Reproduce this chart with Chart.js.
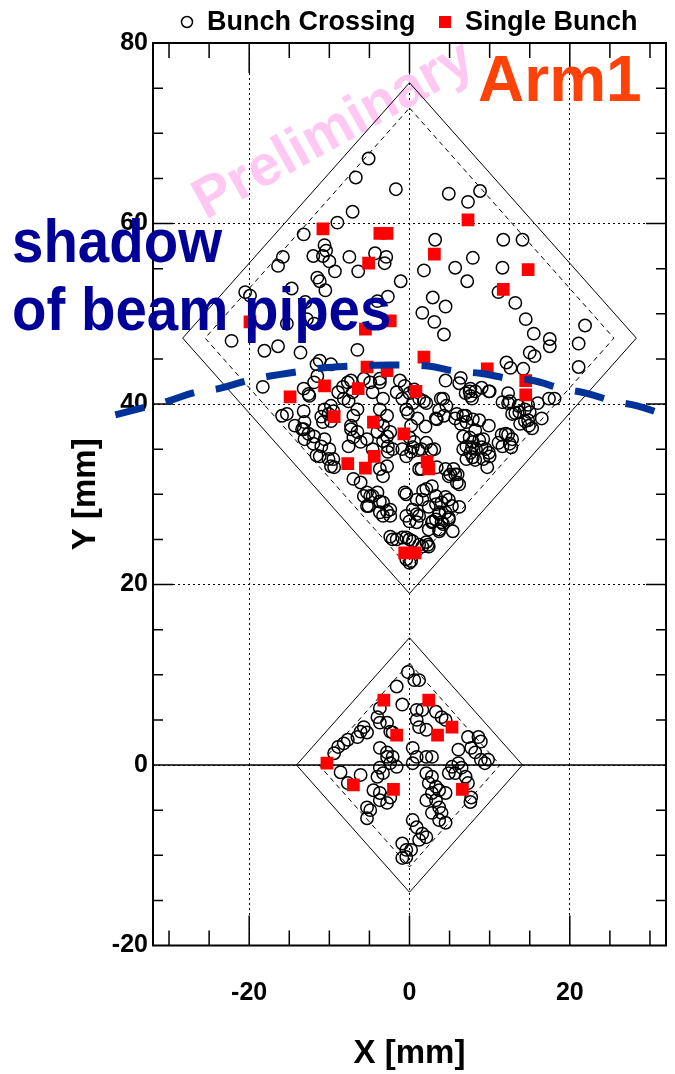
<!DOCTYPE html>
<html>
<head>
<meta charset="utf-8">
<script src="https://cdn.jsdelivr.net/npm/chart.js@4.4.1/dist/chart.umd.min.js"></script>
<style>
  html, body { margin: 0; padding: 0; background: #fff; overflow: hidden; }
  #wrap { position: relative; width: 675px; height: 1074px; }
  canvas { display: block; }
</style>
</head>
<body>
<div id="wrap"><canvas id="hitmap"></canvas></div>
<script>
// hit positions [x, y] in mm
const crossingLarge = [
  [-5.1,67.2],[-6.7,65.1],[-1.7,63.8],[-7.1,61.3],[-9.0,60.1],[-13.2,58.8],[-10.6,57.6],[-10.4,57.0],[-12.0,56.4],[-10.8,56.4],
  [-10.0,55.8],[-7.5,56.3],[-15.8,56.3],[-16.4,55.3],[-9.3,54.7],[-6.4,54.7],[-4.3,56.7],[-2.9,56.3],[-3.1,55.6],[-1.1,53.6],
  [-11.5,54.0],[-11.2,53.6],[-10.5,52.6],[-14.7,52.8],[-20.5,52.4],[-19.9,52.0],[-13.0,51.3],[-4.0,51.4],[-2.7,51.9],[-15.3,48.9],
  [-12.8,49.4],[-11.9,48.9],[-22.2,47.0],[-18.1,45.9],[-16.4,46.4],[-13.6,45.7],[-6.5,46.0],[-11.2,44.8],[-11.5,43.1],[-11.9,42.4],
  [-7.3,42.6],[-5.7,42.8],[-3.7,42.4],[-18.3,41.9],[-13.2,41.7],[-12.6,41.1],[-8.9,41.3],[-1.6,41.3],
  [4.9,63.3],[7.3,62.4],[8.8,63.6],[3.2,58.2],[11.7,58.2],[14.1,58.2],[7.9,56.2],[5.7,55.1],[1.8,54.8],[11.6,55.1],
  [7.2,53.6],[11.1,52.4],[13.2,51.2],[2.9,51.8],[4.5,50.8],[1.6,50.1],[3.1,49.1],[4.3,47.7],[14.5,49.4],[15.5,47.8],
  [17.5,47.2],[17.5,46.4],[15.0,45.7],[15.6,45.3],[21.9,48.7],[21.1,46.7],[21.1,44.1],[12.1,44.6],[12.6,44.0],[14.2,43.9],
  [4.5,42.6],[6.4,42.9],[6.2,42.3],[-1.2,42.6],[7.5,41.4],[9.0,41.8],[12.3,41.2],
  [-15.9,38.7],[-15.3,38.9],[-13.2,39.2],[-12.5,40.9],[-9.8,39.8],[-9.5,39.2],[-11.0,38.6],[-7.6,40.3],[-6.5,39.4],[-7.0,38.7],
  [-13.2,37.2],[-12.6,36.7],[-13.1,36.1],[-11.9,36.4],[-10.6,36.1],[-11.0,35.3],[-10.0,35.0],[-11.6,34.3],[-9.5,33.9],[-9.8,33.1],
  [-9.4,33.0],[-7.3,37.6],[-6.5,36.9],[-7.0,36.3],[-3.3,37.6],[-2.4,36.9],[-2.7,35.3],[-2.1,35.0],[-5.3,36.1],[-4.6,35.0],
  [-4.0,36.9],[-7.0,31.7],[-6.1,31.3],[-5.3,30.2],[-4.9,29.8],[-5.7,29.8],[-3.3,32.0],[-2.8,33.1],[-3.7,32.8],[-0.9,35.0],
  [-0.4,34.2],[-0.6,30.2],[-5.3,28.7],[-3.3,29.1],[-2.4,28.3],[-3.7,28.0],[-3.3,27.6],[-2.4,25.3],[-2.1,25.0],[-0.4,27.6],
  [-0.9,40.6],[-0.4,39.4],
  [0.0,41.2],[0.4,40.1],[1.2,40.6],[2.1,40.1],[4.2,40.6],[3.7,39.3],[3.3,38.4],[7.0,41.2],[7.8,40.6],[5.7,38.4],
  [7.0,38.7],[8.7,38.2],[9.9,37.6],[8.2,37.1],[9.9,41.4],[13.6,39.8],[14.8,39.9],[16.0,40.1],[17.4,40.6],[18.1,40.6],
  [13.2,39.0],[14.8,38.2],[15.3,37.3],[16.5,38.4],[12.3,40.1],[7.5,36.3],[8.7,36.0],[7.8,35.2],[9.0,35.2],[7.6,34.6],
  [8.2,33.8],[9.9,34.6],[11.1,35.7],[12.7,35.2],[12.3,36.6],[11.5,36.6],[9.7,33.0],[0.0,36.3],[0.4,35.2],[1.1,34.9],
  [2.1,35.7],[2.7,34.9],[4.5,32.8],[6.0,32.2],[6.2,31.1],[1.2,32.8],[-0.4,30.0],[1.7,30.4],[0.9,27.8],[0.0,27.0],
  [2.4,28.6],[3.3,28.9],[3.7,27.8],[2.9,27.0],[4.2,26.7],[4.9,27.4],[5.4,25.9],[6.2,28.6],[4.5,29.7],[3.7,25.9],
  [-0.4,25.2],[0.4,24.8],[1.2,24.4],[2.3,24.4],[0.2,22.6],
  [-11.6,44.4],[-9.8,44.4],[-8.3,41.9],[-7.7,42.4],[-7.1,41.3],[-8.2,40.6],[-4.9,42.4],[-4.6,41.3],[-3.7,42.8],[-3.3,40.6],
  [-3.7,39.4],[-2.8,38.7],[-4.0,38.0],[-10.6,39.4],[-10.1,38.9],[-9.8,38.1],[-10.8,38.0],[-7.3,37.2],[-6.1,35.8],[-7.6,35.3],
  [-2.8,36.4],[-3.3,35.9],[-2.7,34.7],[-12.0,35.6],[-11.2,34.2],[-10.1,33.9],[-14.3,37.6],[-13.4,37.2],[-13.1,38.0],
  [7.6,41.7],[7.6,40.9],[8.2,41.4],[10.0,41.4],[3.9,40.6],[4.6,39.8],[4.3,38.7],[3.4,38.3],[5.9,38.9],[6.7,38.7],
  [7.1,38.0],[6.4,37.8],[7.9,38.3],[6.7,36.4],[7.9,35.8],[7.1,35.3],[6.7,35.0],[7.9,34.1],[7.1,33.9],[8.3,35.0],
  [9.2,36.1],[9.5,35.0],[10.0,34.2],[9.2,33.9],[11.6,40.2],[12.5,40.3],[13.7,39.1],[12.8,38.9],[14.4,39.4],[15.0,39.1],
  [14.4,38.1],[14.9,37.6],[13.8,37.8],[12.0,36.7],[12.8,36.1],[12.5,35.6],[11.6,35.3],
  [-0.6,42.0],[0.6,41.6],[1.8,40.3],[-0.2,39.0],[1.0,38.4],[2.0,37.5],[0.2,37.6],[0.6,35.8],[1.5,35.0],[3.1,35.0],
  [0.2,34.7],[1.5,32.8],[3.4,33.0],[5.5,32.8],[5.1,32.2],
  [-4.6,29.8],[-4.0,30.2],[-3.7,29.2],[-5.1,28.7],[-2.8,28.1],[-2.4,27.6],[0.9,29.4],[0.4,28.3],[0.9,26.9],[-1.6,25.0],
  [-0.9,25.2],[0.0,25.0],[1.6,24.2],[0.0,22.4],[-0.4,22.8],[1.2,27.6],[1.6,29.4],[2.1,30.6],[2.8,30.9],[3.3,29.8],
  [4.0,29.1],[4.9,29.4],[5.3,28.7],[3.7,28.0],[4.5,28.0],[3.3,27.2],[4.0,26.9],[4.9,27.2],[2.8,26.9],[3.7,26.1],
  [2.4,26.1],[4.9,32.0],[5.7,32.2],[5.9,31.3],[2.1,24.7],[2.4,24.2]
]

const crossingSmall = [
  [-0.2,10.3],[0.6,9.4],[1.2,9.4],[-1.6,8.7],[-0.9,6.7],[0.9,6.1],[1.6,6.1],[3.3,5.9],[4.0,5.3],[4.5,5.0],
  [-3.7,6.3],[-4.0,5.3],[-3.7,4.7],[-5.7,4.2],[-6.1,3.7],[-5.3,3.6],[-2.8,4.7],[-2.4,3.7],[0.9,5.0],[1.2,4.2],
  [2.1,3.9],[-7.7,2.8],[-8.2,2.4],[-8.9,2.0],[-9.4,1.3],[-6.5,3.1],[-3.7,1.9],[-2.8,1.4],[-2.8,0.9],[-2.1,0.9],
  [-2.4,0.2],[-1.6,-0.2],[0.4,1.9],[0.9,0.9],[2.1,0.9],[2.8,0.9],[6.1,1.7],[7.7,1.9],[8.2,1.4],[7.3,3.1],
  [8.6,3.1],[8.9,2.6],[5.3,-0.2],[6.1,0.2],[6.5,-0.3],[5.7,-0.9],[4.9,-0.9],[2.1,-0.9],[2.8,-1.3],[2.4,-2.0],
  [3.3,-2.4],[3.7,-2.8],[2.8,-3.1],[4.5,-3.1],[8.9,0.6],[9.4,0.2],[9.8,0.6],[7.0,-1.3],[7.3,-2.0],[7.7,-3.6],
  [7.6,-4.1],[-8.6,-0.8],[-6.1,-1.1],[-7.7,-2.0],[-4.0,-1.3],[-3.7,-0.3],[-3.3,-0.9],[-4.5,-2.8],[-3.7,-3.1],[-2.4,-3.6],
  [-2.8,-4.2],[-3.7,-3.9],[-5.3,-4.7],[-4.9,-5.0],[-5.3,-5.9],[2.1,-3.9],[3.3,-3.9],[3.7,-4.7],[2.8,-5.3],[4.0,-5.3],
  [4.5,-6.4],[3.7,-6.1],[0.4,-6.1],[0.9,-6.9],[1.6,-7.6],[2.1,-8.0],[1.2,-8.3],[-0.9,-8.7],[-0.4,-9.4],[-0.4,-10.2],
  [-0.9,-10.3],[0.2,-9.4],[-2.1,3.6],[0.4,0.2]
]

const singleBunch = [
  [-10.8,59.4],[-3.7,58.9],[-2.8,58.9],[-5.1,55.6],[3.1,56.6],[7.3,60.4],[14.8,54.9],[11.7,52.7],[-19.9,49.1],[-5.5,48.3],
  [-2.4,49.2],[-5.3,44.1],[-2.8,43.7],[-10.6,42.0],[-6.4,41.7],[-14.9,40.8],[1.8,45.2],[9.7,43.9],[14.5,42.6],[14.5,41.0],
  [0.8,41.4],[-9.4,38.6],[-4.5,38.0],[-0.7,36.7],[-7.7,33.4],[-4.4,34.2],[-5.5,32.9],[2.2,33.6],[2.4,32.8],[-0.6,23.5],
  [0.7,23.5],
  [-3.2,7.2],[2.4,7.2],[-1.6,3.3],[3.5,3.3],[5.3,4.2],[-10.3,0.2],[-7.0,-2.2],[-2.0,-2.7],[6.6,-2.7]
]

// calorimeter tower outlines (40 mm and 20 mm, with 2 mm inner margin)
const towerLarge = [[0,75.6],[28.3,47.3],[0,19.0],[-28.3,47.3],[0,75.6]]
const towerLargeInner = [[0,72.8],[25.5,47.3],[0,21.8],[-25.5,47.3],[0,72.8]]
const towerSmall = [[0,14.1],[14.1,0],[0,-14.1],[-14.1,0],[0,14.1]]
const towerSmallInner = [[0,11.3],[11.3,0],[0,-11.3],[-11.3,0],[0,11.3]]

// edge of the beam pipe shadow
const pipeShadow = [
  [-36.7,38.8],[-30.2,40.3],[-26.7,41.3],[-23.8,41.7],[-20.2,42.6],[-17.4,43.1],[-13.8,43.6],[-10.8,44.0],[-7.3,44.2],[-4.3,44.3],
  [-0.6,44.3],[2.3,44.2],[6.0,43.6],[8.8,43.4],[12.6,42.8],[15.4,42.6],[19.0,41.7],[22.0,41.2],[25.5,40.3],[28.4,39.8],
  [31.9,38.8],[32.4,38.7]
]

const xTicks = [-20, 0, 20]
const yTicks = [-20, 0, 20, 40, 60, 80]

const pts = arr => arr.map(p => ({x: p[0], y: p[1]}))
const FONT = '"Liberation Sans", Arial, Helvetica, sans-serif'

function outline(data, dash) {
  return {
    data: pts(data), showLine: true, borderColor: '#000', borderWidth: 1,
    borderDash: dash, pointRadius: 0, fill: false, order: 3
  }
}

const decorations = {
  id: 'decorations',
  beforeDatasetsDraw(chart) {
    const {ctx, chartArea: a, scales: {x, y}} = chart
    ctx.save()
    // watermark
    ctx.save()
    ctx.translate(334, 131)
    ctx.rotate(-29 * Math.PI / 180)
    ctx.font = 'bold 57px ' + FONT
    ctx.fillStyle = 'rgb(255,200,242)'
    ctx.textAlign = 'center'
    ctx.textBaseline = 'middle'
    ctx.fillText('Preliminary', 0, 0)
    ctx.restore()

    ctx.strokeStyle = '#000'
    ctx.lineWidth = 1.5
    const y0 = y.getPixelForValue(0)
    ctx.beginPath()
    ctx.moveTo(a.left, y0); ctx.lineTo(a.right, y0)
    // inward ticks on all four sides
    for (let v = -30; v <= 30; v += 5) {
      const px = x.getPixelForValue(v)
      const len = xTicks.includes(v) ? 30 : 15
      ctx.moveTo(px, a.bottom); ctx.lineTo(px, a.bottom - len)
      ctx.moveTo(px, a.top); ctx.lineTo(px, a.top + len)
    }
    for (let v = -15; v < 80; v += 5) {
      const py = y.getPixelForValue(v)
      const len = yTicks.includes(v) ? 20 : 10
      ctx.moveTo(a.left, py); ctx.lineTo(a.left + len, py)
      ctx.moveTo(a.right, py); ctx.lineTo(a.right - len, py)
    }
    ctx.stroke()
    ctx.lineWidth = 2
    ctx.strokeRect(a.left, a.top, a.right - a.left, a.bottom - a.top)
    ctx.restore()
  },
  afterDraw(chart) {
    const ctx = chart.ctx
    ctx.save()
    ctx.textBaseline = 'alphabetic'
    ctx.textAlign = 'left'

    // legend
    ctx.font = 'bold 27px ' + FONT
    ctx.fillStyle = '#000'
    ctx.strokeStyle = '#000'
    ctx.lineWidth = 1.5
    ctx.beginPath()
    ctx.arc(187, 22, 5.5, 0, Math.PI * 2)
    ctx.stroke()
    ctx.fillText('Bunch Crossing', 207, 30)
    ctx.fillStyle = '#ff0000'
    ctx.fillRect(439, 16, 12, 12)
    ctx.fillStyle = '#000'
    ctx.fillText('Single Bunch', 465, 30)

    ctx.font = 'bold 64px ' + FONT
    ctx.fillStyle = '#ff4208'
    ctx.fillText('Arm1', 478, 101)

    // annotation, slightly condensed
    ctx.font = 'bold 61px ' + FONT
    ctx.fillStyle = '#000099'
    ctx.save()
    ctx.translate(12, 0)
    ctx.scale(0.925, 1)
    ctx.fillText('shadow', 0, 262)
    ctx.fillText('of beam pipes', 0, 330)
    ctx.restore()
    ctx.restore()
  }
}

const tickFont = {family: FONT, weight: 'bold', size: 25}
const titleFont = {family: FONT, weight: 'bold', size: 33}

new Chart(document.getElementById('hitmap'), {
  type: 'scatter',
  data: {
    datasets: [
      {
        label: 'pipe shadow', data: pts(pipeShadow), showLine: true,
        borderColor: '#003399', borderWidth: 7, borderDash: [30, 22],
        tension: 0.4, pointRadius: 0, clip: false, order: 0
      },
      {
        label: 'Single Bunch', data: pts(singleBunch), pointStyle: 'rect',
        pointRadius: 9, backgroundColor: '#ff0000', borderWidth: 0, order: 1
      },
      {
        label: 'Bunch Crossing', data: pts(crossingLarge.concat(crossingSmall)),
        pointStyle: 'circle', pointRadius: 6.2, backgroundColor: 'rgba(0,0,0,0)',
        borderColor: '#000', borderWidth: 1.5, order: 2
      },
      outline(towerLarge, []),
      outline(towerLargeInner, [5, 4]),
      outline(towerSmall, []),
      outline(towerSmallInner, [5, 4])
    ]
  },
  options: {
    responsive: true,
    maintainAspectRatio: false,
    animation: false,
    devicePixelRatio: 1,
    layout: {padding: {top: 43, right: 4, left: 0, bottom: 0}},
    plugins: {legend: {display: false}, tooltip: {enabled: false}},
    scales: {
      x: {
        type: 'linear', min: -32, max: 32,
        afterFit: s => { s.height = 128.5; s.paddingLeft = 0; s.paddingRight = 0 },
        afterBuildTicks: s => { s.ticks = xTicks.map(v => ({value: v})) },
        ticks: {color: '#000', font: tickFont, padding: 33, maxRotation: 0},
        grid: {color: '#000', lineWidth: 1, drawTicks: false},
        border: {display: false, dash: [2, 3]},
        title: {display: true, text: 'X [mm]', color: '#000', font: titleFont, padding: {top: 0, bottom: 0}}
      },
      y: {
        type: 'linear', min: -20, max: 80,
        afterFit: s => { s.width = 153; s.paddingTop = 0; s.paddingBottom = 0 },
        afterBuildTicks: s => { s.ticks = yTicks.map(v => ({value: v})) },
        ticks: {color: '#000', font: tickFont, padding: 5},
        grid: {color: '#000', lineWidth: 1, drawTicks: false},
        border: {display: false, dash: [2, 3]},
        title: {display: true, text: 'Y [mm]', color: '#000', font: titleFont, padding: {top: 66, bottom: 0}}
      }
    }
  },
  plugins: [decorations]
})
</script>
</body>
</html>
